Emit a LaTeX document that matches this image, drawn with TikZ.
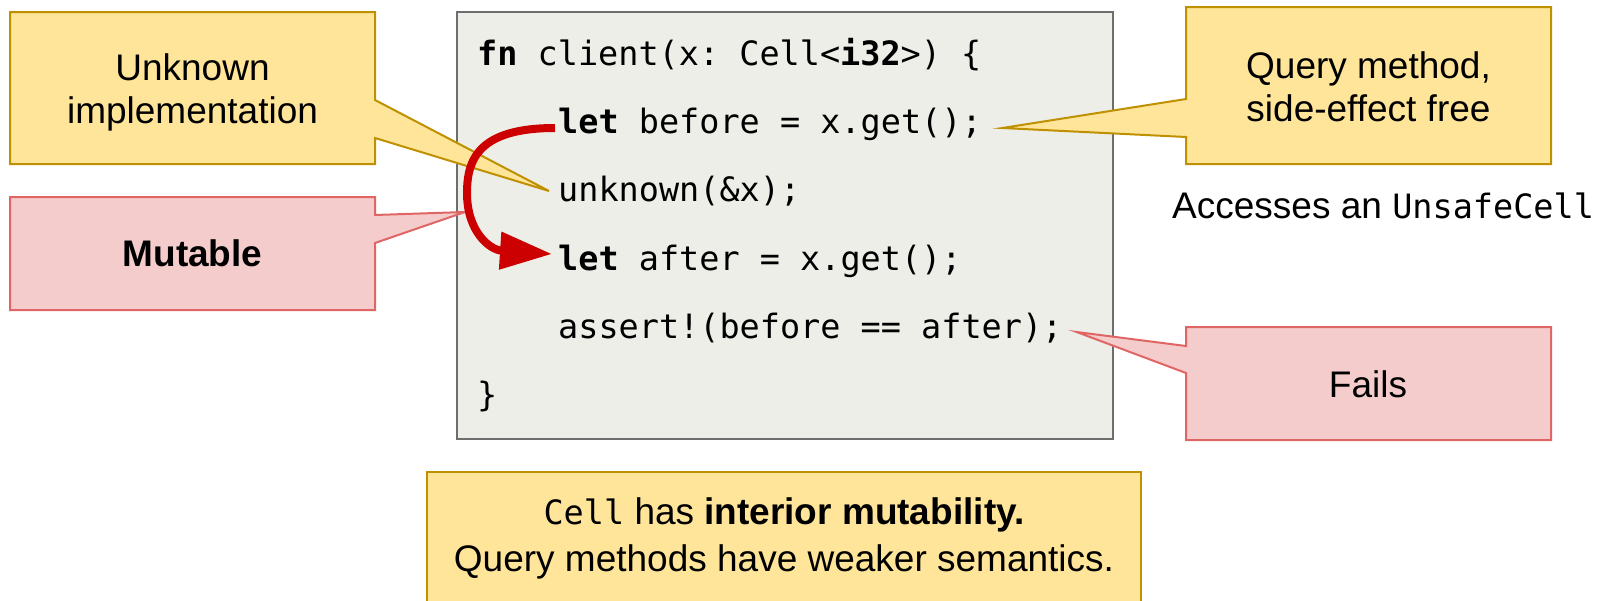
\documentclass[tikz,border=0pt]{standalone}
\usepackage{fontspec}
\setmainfont{Liberation Sans}
\setmonofont{DejaVu Sans Mono}
\usetikzlibrary{arrows.meta}
\definecolor{notefill}{HTML}{FFE599}
\definecolor{notedraw}{HTML}{BF9000}
\definecolor{warnfill}{HTML}{F4CCCC}
\definecolor{warndraw}{HTML}{E06666}
\definecolor{codefill}{HTML}{EEEEE8}
\definecolor{codedraw}{HTML}{6E6E6E}
\definecolor{flowred}{HTML}{CC0000}
\newcommand{\labelsize}{\fontsize{37}{43}\selectfont}
\newcommand{\codesize}{\fontsize{33.5}{40}\selectfont\ttfamily}

\begin{document}
\begin{tikzpicture}[x=1pt,y=-1pt,
  notebox/.style={draw=notedraw,fill=notefill,line width=2pt},
  warnbox/.style={draw=warndraw,fill=warnfill,line width=2pt},
  codeline/.style={anchor=base west,inner sep=0pt,font=\codesize},
  notetext/.style={align=center,inner sep=0pt,font=\labelsize}]
  \useasboundingbox (0,0) rectangle (1601,600);
  % the listing
  \draw[draw=codedraw,fill=codefill,line width=2pt] (457,12) rectangle (1113,439);
  \node[codeline] (sig) at (477,65) {\textbf{fn} client(x: Cell<\textbf{i32}>) \{};
  \node[codeline] (before) at (558,133) {\textbf{let} before = x.get();};
  \node[codeline] (unk) at (558,201.5) {unknown(\&x);};
  \node[codeline] (after) at (558,270) {\textbf{let} after = x.get();};
  \node[codeline] (check) at (558,338) {assert!(before == after);};
  \node[codeline] (close) at (477,406) {\}};
  % callouts
  \coordinate (bend) at (465,212);
  \draw[notebox] (10,12) -- (375,12) -- (375,100) -- ([xshift=-9pt,yshift=10.5pt]unk.base west)
    -- (375,138) -- (375,164) -- (10,164) -- cycle;
  \draw[warnbox] (10,197) -- (375,197) -- (375,215) -- (bend) -- (375,243) -- (375,310) -- (10,310) -- cycle;
  \draw[notebox] (1186,7) -- (1551,7) -- (1551,164) -- (1186,164) -- (1186,137)
    -- ([xshift=20.5pt,yshift=5pt]before.base east) -- (1186,99) -- cycle;
  \draw[warnbox] (1186,327) -- (1551,327) -- (1551,440) -- (1186,440) -- (1186,373)
    -- ([xshift=14pt,yshift=6pt]check.base east) -- (1186,346) -- cycle;
  \draw[notebox] (427,472) rectangle (1141,620);
  % value flows through unknown()
  \draw[flowred,line width=8pt,-{Triangle[length=52pt,width=36pt]}]
    ([xshift=-3pt,yshift=5pt]before.base west) .. controls (478,128) and (467,160) .. (467,193)
    .. controls (467,232) and (490,250) .. ([xshift=-6pt,yshift=16pt]after.base west);
  % texts
  \node[notetext] (unknownnote) at (192.5,92) {Unknown\\implementation};
  \node[notetext,font=\labelsize\bfseries] (mutnote) at (192.5,253.5) {Mutable};
  \node[notetext] (querynote) at (1368.5,86.5) {Query method,\\side-effect free};
  \node[notetext] (failnote) at (1368,384) {Fails};
  \node[notetext,anchor=base west] (unsafe) at (1172,218) {Accesses an {\codesize UnsafeCell}};
  \node[notetext,font=\fontsize{37}{47}\selectfont] (summary) at (784,538)
    {{\codesize Cell} has \textbf{interior mutability.}\\Query methods have weaker semantics.};
\end{tikzpicture}
\end{document}
